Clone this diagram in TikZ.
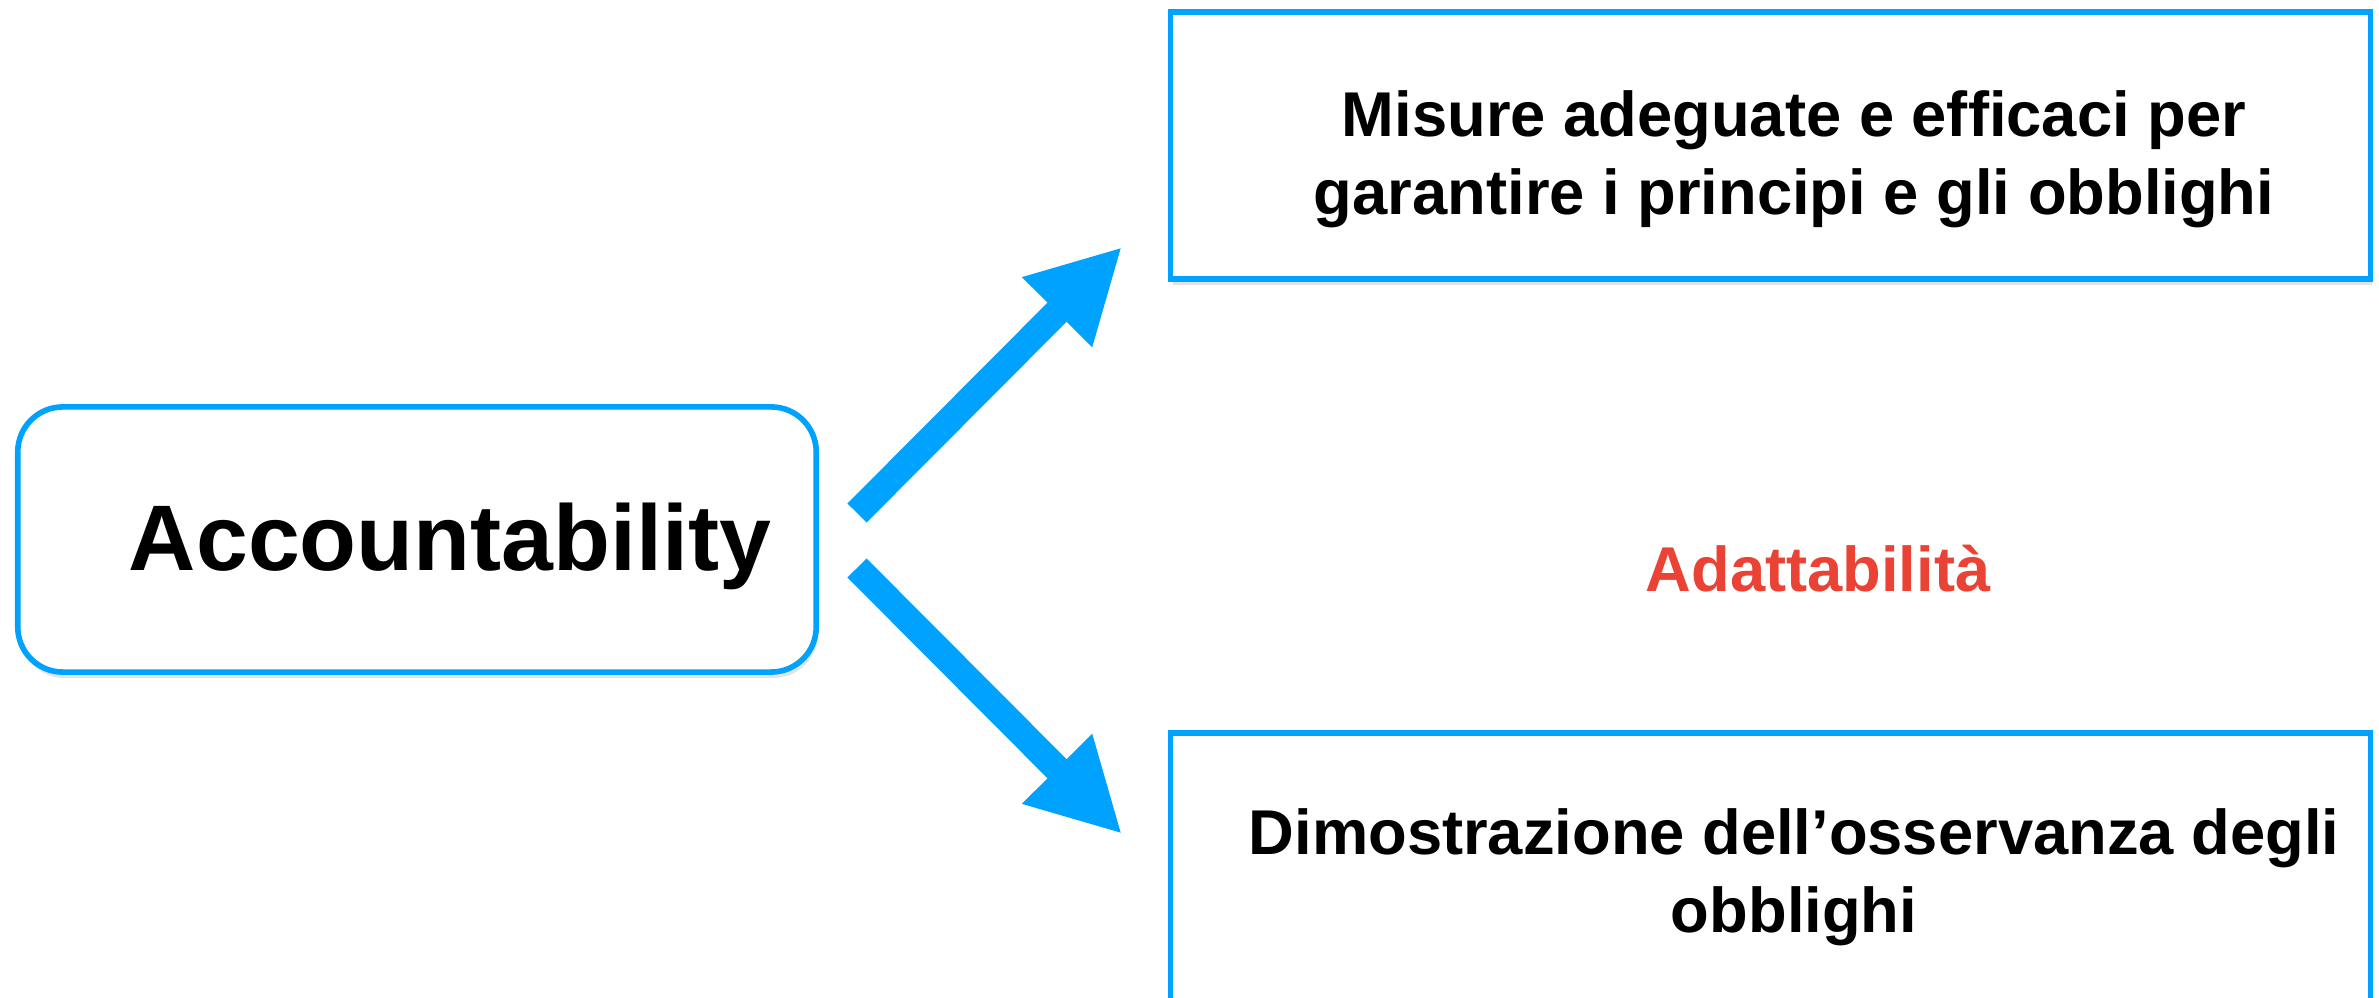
\documentclass[tikz,border=0pt]{standalone}
\usepackage{fontspec}
\setmainfont{Liberation Sans}
\usetikzlibrary{arrows.meta,shadows}
\definecolor{accblue}{HTML}{00A2FF}
\definecolor{adared}{HTML}{EA4335}

\begin{document}
\begin{tikzpicture}[x=0.01cm, y=-0.01cm,
  box/.style={draw=accblue, line width=1.6pt, fill=white, drop shadow={opacity=0.22, shadow xshift=0.02cm, shadow yshift=-0.06cm}},
  txt/.style={align=center, font=\fontsize{18}{22.3}\selectfont\bfseries},
  arr/.style={-{Triangle[length=0.92cm, width=0.92cm]}, line width=0.27cm, draw=accblue}]
\useasboundingbox (0,0) rectangle (2379,998);
\clip (0,0) rectangle (2379,998);
\node[box, rounded corners=0.45cm, minimum width=7.98cm, minimum height=2.65cm,
  label={[font=\fontsize{26.5}{30}\selectfont\bfseries, xshift=0.33cm, yshift=-0.07cm]center:Accountability}] (acc) at (417,539.5) {};
\node[box, minimum width=11.99cm, minimum height=2.67cm,
  label={[txt, xshift=0.235cm, yshift=-0.14cm]center:Misure adeguate e efficaci per\\garantire i principi e gli obblighi}] (mis) at (1770.5,145.5) {};
\node[box, minimum width=11.99cm, minimum height=3.0cm,
  label={[txt, xshift=0.235cm, yshift=0.06cm]center:Dimostrazione dell’osservanza degli\\obblighi}] (dim) at (1770.5,883) {};
\node[txt, text=adared] (ada) at (1818,569) {Adattabilità};
\coordinate (up0) at (857,513); \coordinate (up1) at (1122,247);
\coordinate (dn0) at (857,568); \coordinate (dn1) at (1122,834);
\draw[arr] (up0) -- (up1);
\draw[arr] (dn0) -- (dn1);
\end{tikzpicture}
\end{document}
